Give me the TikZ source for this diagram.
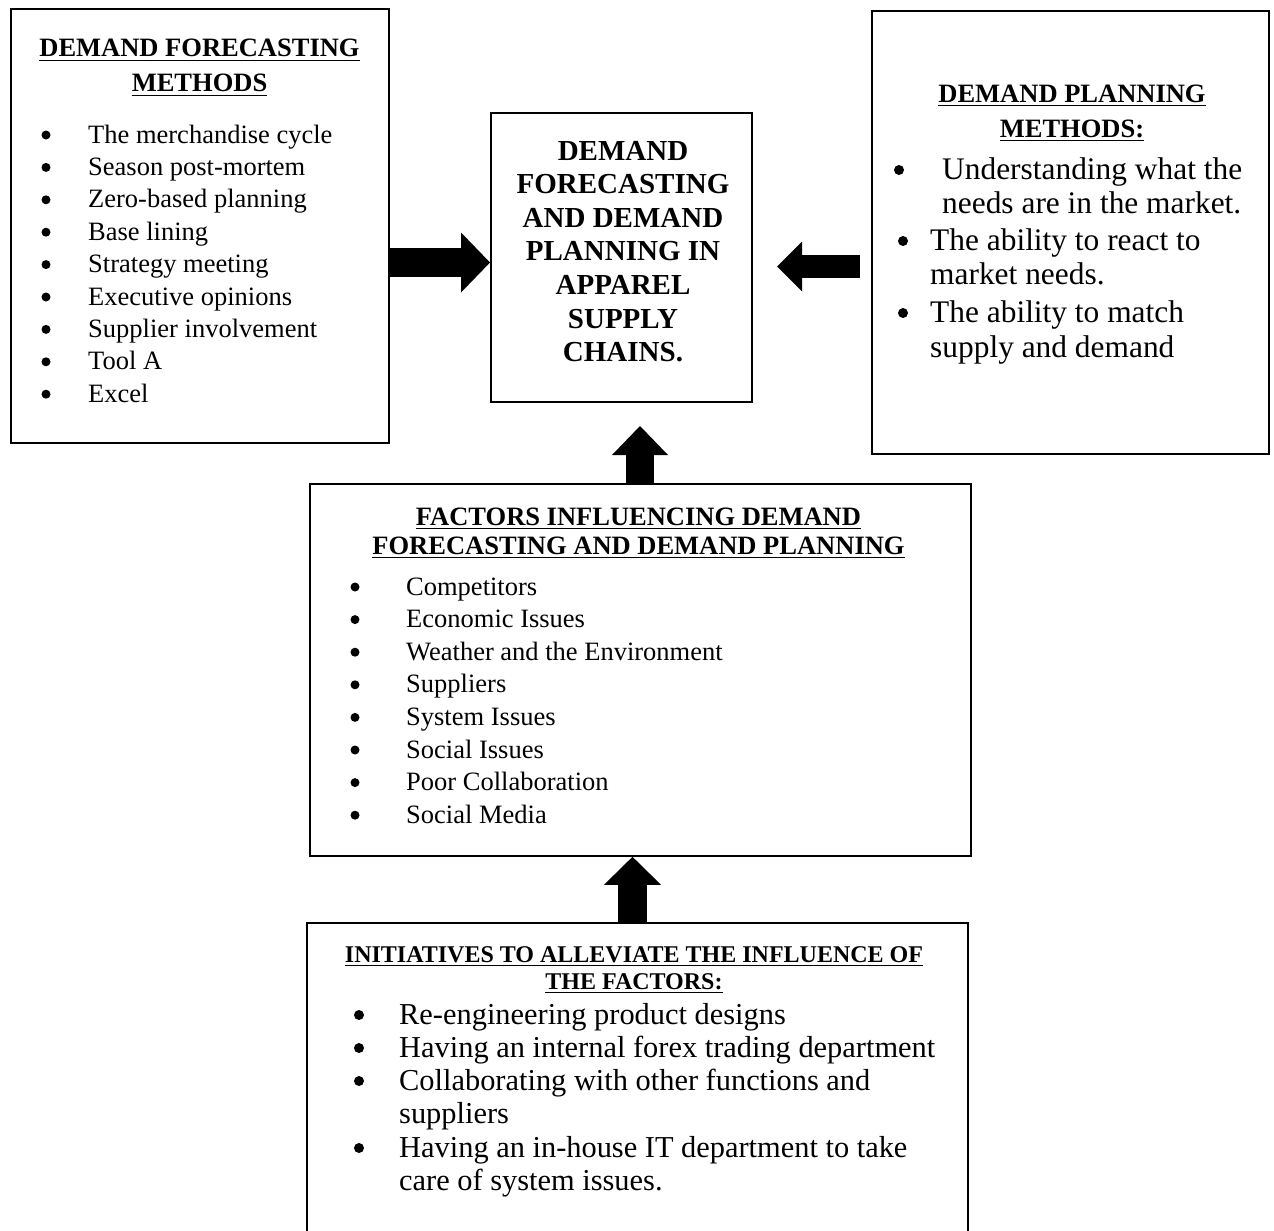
\documentclass[tikz,border=0pt]{standalone}
\usepackage{fontspec}
\setmainfont{Liberation Serif}
\usetikzlibrary{arrows.meta}
\begin{document}
\begin{tikzpicture}[x=1pt,y=-1pt,
  box/.style={draw, line width=1.8pt, inner sep=0pt, anchor=north west},
  txt/.style={inner sep=0pt, anchor=base west},
  ctr/.style={inner sep=0pt, anchor=base},
  ul/.style={line width=1.8pt},
  dot/.style={circle, fill, inner sep=0pt, minimum size=#1},
  hd/.style={font=\fontsize{26.5}{30}\selectfont\bfseries},
  hdsm/.style={font=\fontsize{24}{28}\selectfont\bfseries},
  itm/.style={font=\fontsize{26.5}{30}\selectfont},
  itbig/.style={font=\fontsize{31.4}{36}\selectfont},
  itini/.style={font=\fontsize{30.4}{35}\selectfont},
  ttl/.style={font=\fontsize{29}{34}\selectfont\bfseries},
  blockarrow/.style n args={3}{line width=#1, -{Triangle[length=#3, width=#2, line width=0pt]}}
]
\useasboundingbox (0,0) rectangle (1274,1231);

% boxes
\node[box, minimum width=378, minimum height=434] (L) at (10,8) {};
\node[box, minimum width=261, minimum height=289] (C) at (490,112) {};
\node[box, minimum width=397, minimum height=443] (R) at (871,10) {};
\node[box, minimum width=661, minimum height=372] (F) at (309,483) {};
\node[box, minimum width=661, minimum height=318] (I) at (306,922) {};

% left box
\node[ctr, hd] (Lh1) at (199.5,57) {DEMAND FORECASTING};
\node[ctr, hd] (Lh2) at (199.5,92) {METHODS};
\foreach \n in {Lh1,Lh2}
  \draw[ul] ([yshift=-3.5pt]\n.base west) -- ([yshift=-3.5pt]\n.base east);
\foreach \t [count=\i from 0] in {{The merchandise cycle},{Season post-mortem},{Zero-based planning},{Base lining},{Strategy meeting},{Executive opinions},{Supplier involvement},{Tool A},{Excel}} {
  \node[txt, itm] (Li\i) at (88, 143+32.4*\i) {\t};
  \node[dot=9] (Lb\i) at (46, 135+32.4*\i) {};
}

% centre box
\foreach \t [count=\i from 0] in {DEMAND,FORECASTING,{AND DEMAND},{PLANNING IN},APPAREL,SUPPLY,CHAINS.} {
  \node[ctr, ttl] (Ct\i) at (623, 160+33.6*\i) {\t};
}

% right box
\node[ctr, hd] (Rh1) at (1072,102) {DEMAND PLANNING};
\node[ctr, hd] (Rh2) at (1072,137) {METHODS:};
\foreach \n in {Rh1,Rh2}
  \draw[ul] ([yshift=-3.5pt]\n.base west) -- ([yshift=-3.5pt]\n.base east);
\node[dot=10] (Rb1) at (899,170) {};
\node[txt, itbig] (Rt1) at (942,179) {Understanding what the};
\node[txt, itbig] (Rt2) at (942,213) {needs are in the market.};
\node[dot=10] (Rb2) at (903,241) {};
\node[txt, itbig] (Rt3) at (930,250) {The ability to react to};
\node[txt, itbig] (Rt4) at (930,284) {market needs.};
\node[dot=10] (Rb3) at (903,313) {};
\node[txt, itbig] (Rt5) at (930,322) {The ability to match};
\node[txt, itbig] (Rt6) at (930,357) {supply and demand};

% factors box
\node[ctr, hd] (Fh1) at (638.5,525) {FACTORS INFLUENCING DEMAND};
\node[ctr, hd] (Fh2) at (638.5,554) {FORECASTING AND DEMAND PLANNING};
\foreach \n in {Fh1,Fh2}
  \draw[ul] ([yshift=-3.5pt]\n.base west) -- ([yshift=-3.5pt]\n.base east);
\foreach \t [count=\i from 0] in {Competitors,{Economic Issues},{Weather and the Environment},Suppliers,{System Issues},{Social Issues},{Poor Collaboration},{Social Media}} {
  \node[txt, itm] (Fi\i) at (406, 595+32.6*\i) {\t};
  \node[dot=9] (Fb\i) at (355, 587+32.6*\i) {};
}

% initiatives box
\node[ctr, hdsm] (Ih1) at (634,962) {INITIATIVES TO ALLEVIATE THE INFLUENCE OF};
\node[ctr, hdsm] (Ih2) at (634,989) {THE FACTORS:};
\foreach \n in {Ih1,Ih2}
  \draw[ul] ([yshift=-3.5pt]\n.base west) -- ([yshift=-3.5pt]\n.base east);
\node[dot=10] (Ib1) at (359,1015) {};
\node[txt, itini] (It1) at (399,1024) {Re-engineering product designs};
\node[dot=10] (Ib2) at (359,1048) {};
\node[txt, itini] (It2) at (399,1057) {Having an internal forex trading department};
\node[dot=10] (Ib3) at (359,1081) {};
\node[txt, itini] (It3) at (399,1090) {Collaborating with other functions and};
\node[txt, itini] (It4) at (399,1123) {suppliers};
\node[dot=10] (Ib4) at (359,1148) {};
\node[txt, itini] (It5) at (399,1157) {Having an in-house IT department to take};
\node[txt, itini] (It6) at (399,1190) {care of system issues.};

% block arrows
\coordinate (a2s) at (860,266.5);
\coordinate (a2e) at (777,266.5);
\coordinate (a3e) at (640,426);
\draw[blockarrow={29pt}{60pt}{29pt}] (L.east |- 0,262.5) -- (C.west |- 0,262.5);
\draw[blockarrow={23pt}{50pt}{25pt}] (a2s) -- (a2e);
\draw[blockarrow={28pt}{56pt}{29pt}] (F.north -| a3e) -- (a3e);
\draw[blockarrow={29pt}{57pt}{28pt}] (I.north -| 632.5,0) -- (F.south -| 632.5,0);
\end{tikzpicture}
\end{document}
